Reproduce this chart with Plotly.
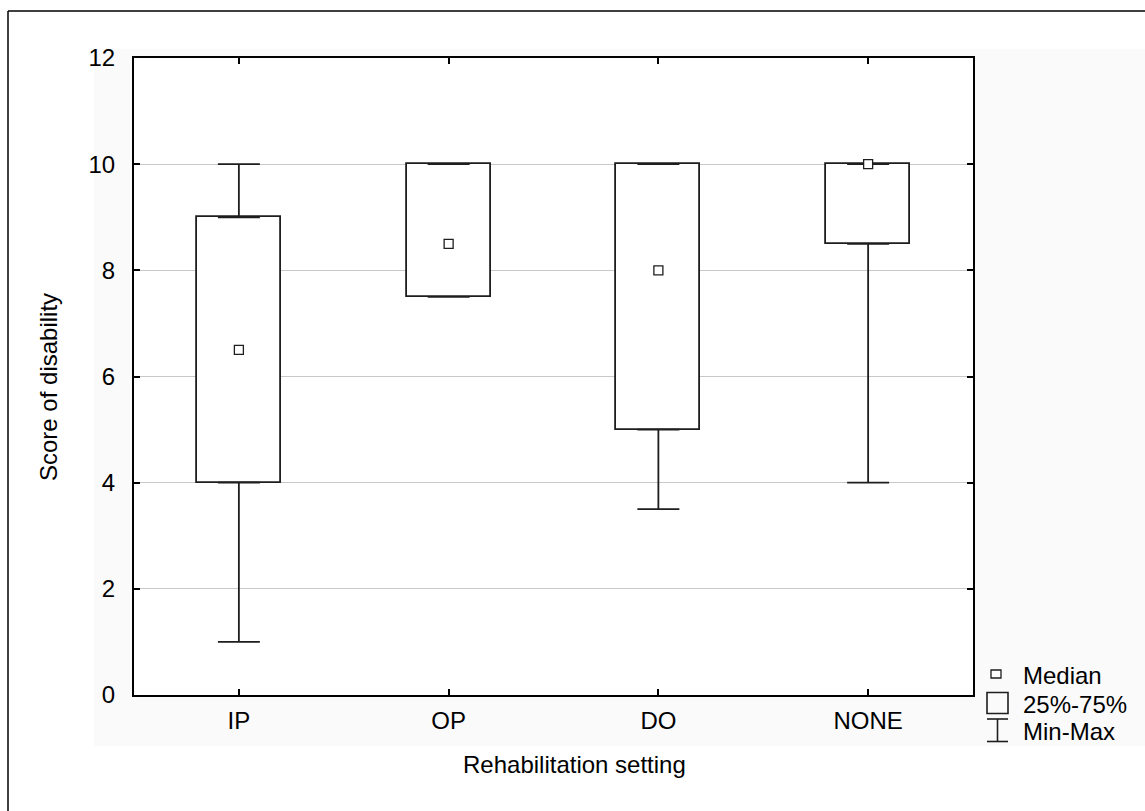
import plotly.graph_objects as go

categories = ["IP", "OP", "DO", "NONE"]
q1_vals = [4, 7.5, 5, 8.5]
q3_vals = [9, 10, 10, 10]
min_vals = [1, 7.5, 3.5, 4]
max_vals = [10, 10, 10, 10]
median_vals = [6.5, 8.5, 8, 10]

legend_labels = ["Median", "25%-75%", "Min-Max"]
x_title = "Rehabilitation setting"
y_title = "Score of disability"

W, H = 1145, 811
L, R, T, B = 134, 172, 58, 116
PW, PH = W - L - R, H - T - B


def X(px):
    return (px - L) / PW


def Y(py):
    return (H - B - py) / PH


FONT = "Liberation Sans, Arial, sans-serif"
LC = "#1e1e1e"
LW = 1.8

fig = go.Figure()

fig.add_trace(go.Bar(
    x=categories,
    y=[a - b for a, b in zip(q3_vals, q1_vals)],
    base=q1_vals,
    width=0.4,
    marker=dict(color="white", line=dict(color=LC, width=LW)),
    showlegend=False,
    hoverinfo="skip",
))

fig.add_trace(go.Scatter(
    x=categories, y=q3_vals, mode="markers",
    marker=dict(size=1, color="rgba(0,0,0,0)"),
    error_y=dict(type="data", symmetric=False,
                 array=[a - b for a, b in zip(max_vals, q3_vals)],
                 arrayminus=[0] * len(categories),
                 width=21, thickness=LW, color=LC),
    showlegend=False, hoverinfo="skip",
))

fig.add_trace(go.Scatter(
    x=categories, y=q1_vals, mode="markers",
    marker=dict(size=1, color="rgba(0,0,0,0)"),
    error_y=dict(type="data", symmetric=False,
                 array=[0] * len(categories),
                 arrayminus=[a - b for a, b in zip(q1_vals, min_vals)],
                 width=21, thickness=LW, color=LC),
    showlegend=False, hoverinfo="skip",
))

fig.add_trace(go.Scatter(
    x=categories, y=median_vals, mode="markers",
    marker=dict(symbol="square", size=9, color="white",
                line=dict(color=LC, width=1.3)),
    showlegend=False, hoverinfo="skip",
))

shapes = [
    # grey panel background
    dict(type="rect", xref="paper", yref="paper", layer="below",
         x0=X(94), x1=X(1146), y0=Y(746), y1=Y(49),
         fillcolor="#fafafa", line=dict(width=0)),
    # white plot area
    dict(type="rect", xref="paper", yref="paper", layer="below",
         x0=0, x1=1, y0=0, y1=1, fillcolor="white", line=dict(width=0)),
    # outer border (top and left)
    dict(type="line", xref="paper", yref="paper",
         x0=X(8), x1=X(1146), y0=Y(11), y1=Y(11),
         line=dict(color="black", width=1.5)),
    dict(type="line", xref="paper", yref="paper",
         x0=X(8), x1=X(8), y0=Y(11), y1=Y(812),
         line=dict(color="black", width=1.5)),
    # legend symbols
    dict(type="rect", xref="paper", yref="paper",
         x0=X(991), x1=X(1001), y0=Y(678), y1=Y(670),
         fillcolor="white", line=dict(color=LC, width=1.3)),
    dict(type="rect", xref="paper", yref="paper",
         x0=X(987), x1=X(1008), y0=Y(713.5), y1=Y(692.5),
         fillcolor="rgba(0,0,0,0)", line=dict(color=LC, width=1.6)),
    dict(type="line", xref="paper", yref="paper",
         x0=X(997.5), x1=X(997.5), y0=Y(719), y1=Y(741.5),
         line=dict(color=LC, width=1.6)),
    dict(type="line", xref="paper", yref="paper",
         x0=X(987), x1=X(1008), y0=Y(719), y1=Y(719),
         line=dict(color=LC, width=1.6)),
    dict(type="line", xref="paper", yref="paper",
         x0=X(987), x1=X(1008), y0=Y(741.5), y1=Y(741.5),
         line=dict(color=LC, width=1.6)),
]

annotations = [
    dict(text=x_title, xref="paper", yref="paper", x=X(574), y=Y(764),
         xanchor="center", yanchor="middle", showarrow=False,
         font=dict(family=FONT, size=24, color="black")),
    dict(text=y_title, xref="paper", yref="paper", x=X(49), y=Y(387),
         xanchor="center", yanchor="middle", showarrow=False, textangle=-90,
         font=dict(family=FONT, size=24, color="black")),
]
for lab, cy in zip(legend_labels, [675, 704, 731]):
    annotations.append(dict(text=lab, xref="paper", yref="paper",
                            x=X(1021), y=Y(cy), xanchor="left",
                            yanchor="middle", showarrow=False,
                            font=dict(family=FONT, size=24, color="black")))

fig.update_layout(
    width=W, height=H, autosize=False,
    margin=dict(l=L, r=R, t=T, b=B, pad=0),
    paper_bgcolor="white", plot_bgcolor="white",
    font=dict(family=FONT, size=24, color="black"),
    shapes=shapes, annotations=annotations,
    bargap=0, showlegend=False,
)

fig.update_xaxes(
    type="category", range=[-0.5, 3.5],
    showline=True, linecolor="black", linewidth=2, mirror="ticks",
    ticks="inside", ticklen=6, tickwidth=1.5, tickcolor="black",
    showgrid=False, zeroline=False,
    tickfont=dict(family=FONT, size=24, color="black"),
    ticklabelstandoff=3,
)
fig.update_yaxes(
    range=[0, 12], dtick=2, tick0=0,
    showline=True, linecolor="black", linewidth=2, mirror="ticks",
    ticks="inside", ticklen=6, tickwidth=1.5, tickcolor="black",
    showgrid=True, gridcolor="#c8c8c8", gridwidth=1, zeroline=False,
    tickfont=dict(family=FONT, size=24, color="black"),
    ticklabelstandoff=12,
)

fig.write_html("out.html")
